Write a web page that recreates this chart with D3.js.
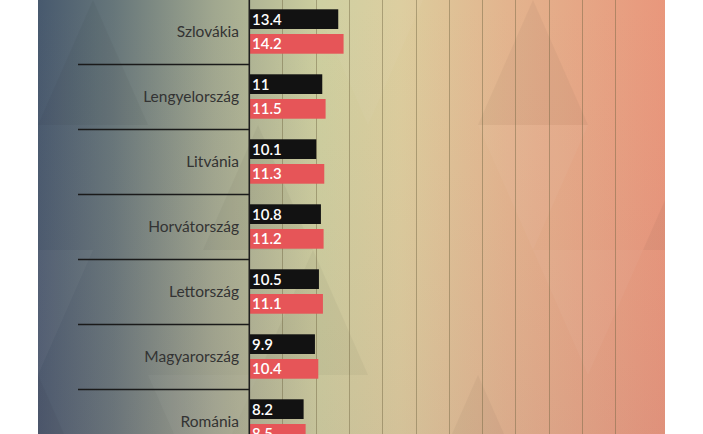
<!DOCTYPE html>
<html><head><meta charset="utf-8">
<script src="https://cdn.jsdelivr.net/npm/d3@7"></script>
<style>html,body{margin:0;padding:0;background:#fff;overflow:hidden}</style>
</head><body>
<svg id="c" width="703" height="434"></svg>
<script>
const categories = ["Szlovákia","Lengyelország","Litvánia","Horvátország","Lettország","Magyarország","Románia"];
const series1 = [13.4, 11, 10.1, 10.8, 10.5, 9.9, 8.2];
const series2 = [14.2, 11.5, 11.3, 11.2, 11.1, 10.4, 8.5];
const gridTicks = [5,10,15,20,25,30,35,40,45,50,55];

const svg = d3.select("#c");
const defs = svg.append("defs");
const gh = defs.append("linearGradient").attr("id","gh").attr("x1","0").attr("x2","1").attr("y1","0").attr("y2","0");
[[0,"#47596e"],[0.12,"#66767a"],[0.28,"#a0a78f"],[0.45,"#cdcf9f"],[0.58,"#dccd9d"],[0.75,"#e3b48e"],[1,"#e9977c"]]
  .forEach(([o,c])=>gh.append("stop").attr("offset",o).attr("stop-color",c));
const gv = defs.append("linearGradient").attr("id","gv").attr("x1","0").attr("x2","0").attr("y1","0").attr("y2","1");
gv.append("stop").attr("offset",0).attr("stop-color","#c08080").attr("stop-opacity",0);
gv.append("stop").attr("offset",1).attr("stop-color","#8a5a70").attr("stop-opacity",0.1);

const bgX0 = 38, bgX1 = 665;
svg.append("rect").attr("x",bgX0).attr("y",0).attr("width",bgX1-bgX0).attr("height",434).attr("fill","url(#gh)");
svg.append("rect").attr("x",bgX0).attr("y",0).attr("width",bgX1-bgX0).attr("height",434).attr("fill","url(#gv)");

// subtle triangle texture
const tri = svg.append("g").attr("opacity",0.03);
const tw = 110, th = 125;
for (let r=-1; r<5; r++) {
  for (let c=-1; c<8; c++) {
    const x0 = bgX0 + c*tw + (r%2?tw/2:0), y0 = r*th;
    if ((r*3+c*5)%4===0) tri.append("path").attr("d",`M${x0},${y0+th}L${x0+tw/2},${y0}L${x0+tw},${y0+th}Z`).attr("fill","#000");
    if ((r*7+c*3)%5===1) tri.append("path").attr("d",`M${x0+tw/2},${y0}L${x0+tw*1.5},${y0}L${x0+tw},${y0+th}Z`).attr("fill","#fff");
  }
}
svg.append("rect").attr("x",0).attr("y",0).attr("width",bgX0).attr("height",434).attr("fill","#fff");
svg.append("rect").attr("x",bgX1).attr("y",0).attr("width",703-bgX1).attr("height",434).attr("fill","#fff");

const x = d3.scaleLinear().domain([0, 62.4]).range([249, 664.6]);
const y = d3.scaleBand().domain(categories).range([-1, -1 + 65*categories.length]);

// grid
svg.append("g").selectAll("line").data(gridTicks).join("line")
  .attr("x1",d=>Math.round(x(d))+0.5).attr("x2",d=>Math.round(x(d))+0.5)
  .attr("y1",0).attr("y2",434)
  .attr("stroke","#6e6440").attr("stroke-opacity",0.45).attr("stroke-width",1);

// separators
svg.append("g").selectAll("line").data(categories.slice(1)).join("line")
  .attr("x1",78).attr("x2",249).attr("y1",d=>y(d)+0.5).attr("y2",d=>y(d)+0.5)
  .attr("stroke","#1a1a1a").attr("stroke-width",1.3);

const rows = categories.map((c,i)=>({c, a:series1[i], b:series2[i]}));
const g = svg.append("g").selectAll("g").data(rows).join("g").attr("transform",d=>`translate(0,${y(d.c)})`);

g.append("rect").attr("x",x(0)).attr("y",10.3).attr("height",19.7).attr("width",d=>x(d.a)-x(0)).attr("fill","#121212");
g.append("rect").attr("x",x(0)).attr("y",35).attr("height",19.7).attr("width",d=>x(d.b)-x(0)).attr("fill","#e65558");

g.append("text").attr("x",252).attr("y",20.3).attr("dy","0.35em").text(d=>d.a)
  .attr("fill","#fff").attr("font-family","Lato, 'Open Sans', sans-serif").attr("font-size",15).attr("font-weight",600);
g.append("text").attr("x",252).attr("y",45).attr("dy","0.35em").text(d=>d.b)
  .attr("fill","#fff").attr("font-family","Lato, 'Open Sans', sans-serif").attr("font-size",15).attr("font-weight",600);

g.append("text").attr("x",239).attr("y",y.bandwidth()/2).attr("dy","0.35em").attr("text-anchor","end").text(d=>d.c)
  .attr("fill","#333").attr("font-family","Lato, 'Open Sans', sans-serif").attr("font-size",15.5);

// axis line
svg.append("line").attr("x1",249.3).attr("x2",249.3).attr("y1",0).attr("y2",434).attr("stroke","#1e1e1e").attr("stroke-width",1.6);
</script>
</body></html>
